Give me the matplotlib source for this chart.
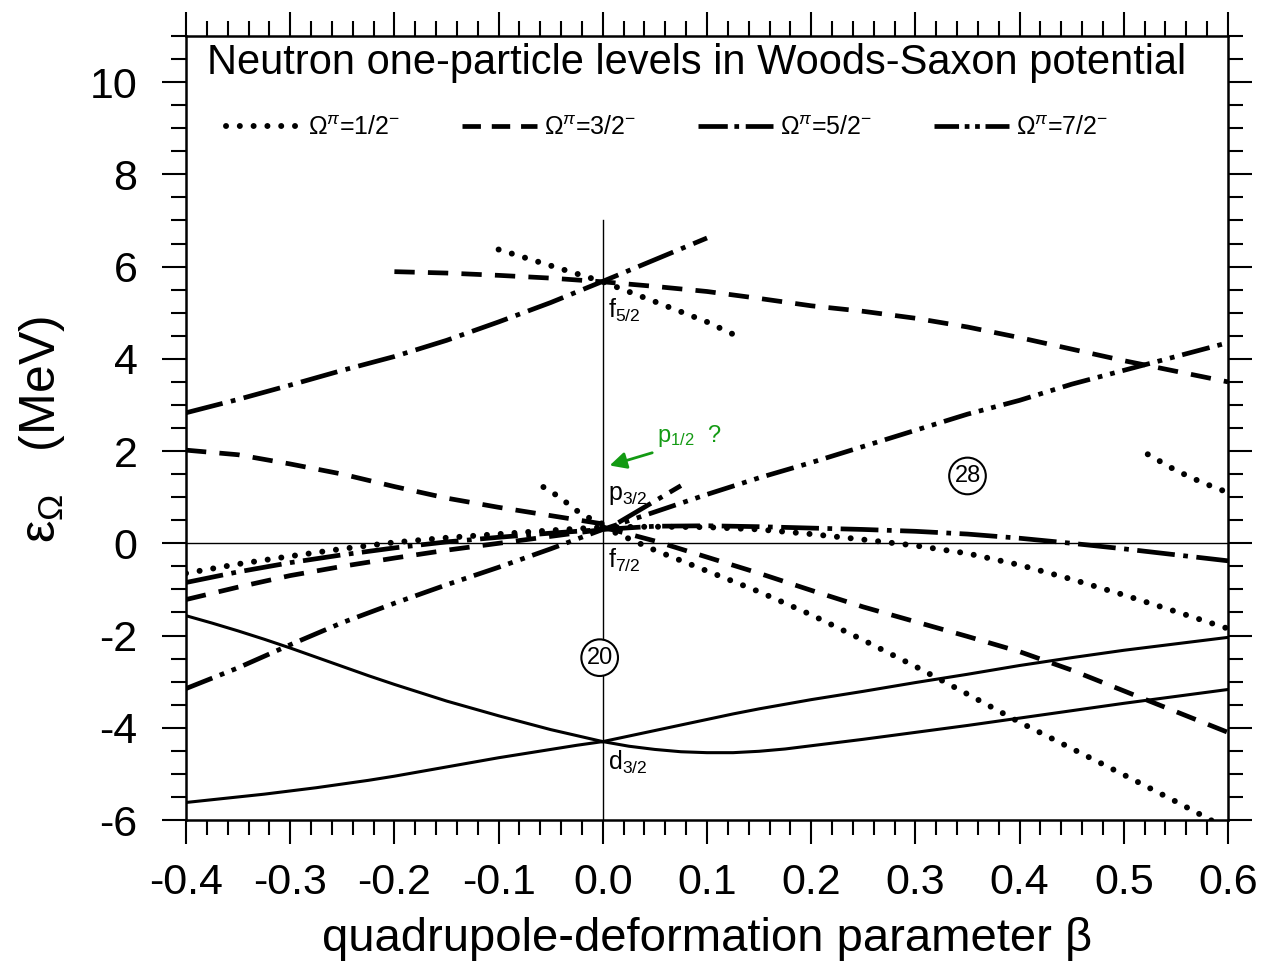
import matplotlib
matplotlib.use("Agg")
import matplotlib.pyplot as plt
from matplotlib.lines import Line2D
from matplotlib.ticker import MultipleLocator

plt.rcParams['font.family'] = ['Liberation Sans', 'DejaVu Sans']
plt.rcParams['mathtext.fontset'] = 'custom'
plt.rcParams['mathtext.rm'] = 'Liberation Sans'
plt.rcParams['mathtext.it'] = 'Liberation Sans:italic'
plt.rcParams['axes.unicode_minus'] = False

# deformation grids
beta_left = [-0.40, -0.35, -0.30, -0.25, -0.20, -0.15, -0.10, -0.05, 0.00]
beta_right = [0.00, 0.05, 0.10, 0.15, 0.20, 0.25, 0.30, 0.35, 0.40, 0.45, 0.50, 0.55, 0.60]
beta_full = beta_left[:-1] + beta_right
beta_left_fine = [-0.400, -0.375, -0.350, -0.325, -0.300, -0.275, -0.250, -0.225, -0.200,
                  -0.175, -0.150, -0.125, -0.100, -0.075, -0.050, -0.025, 0.000]
beta_right_fine = [0.000, 0.025, 0.050, 0.075, 0.100, 0.125, 0.150, 0.175, 0.200, 0.225,
                   0.250, 0.300, 0.350, 0.400, 0.450, 0.500, 0.550, 0.600]

# d3/2 (solid)
d32_a_left = [-1.57, -1.73, -1.90, -2.08, -2.27, -2.47, -2.67, -2.87, -3.06,
              -3.24, -3.42, -3.58, -3.74, -3.89, -4.04, -4.17, -4.30]
d32_b_left = [-5.62, -5.56, -5.50, -5.44, -5.37, -5.30, -5.22, -5.14, -5.05,
              -4.95, -4.85, -4.75, -4.65, -4.56, -4.47, -4.38, -4.30]
d32_a_right = [-4.30, -4.18, -4.06, -3.94, -3.82, -3.70, -3.59, -3.49, -3.39, -3.30,
               -3.21, -3.02, -2.84, -2.65, -2.48, -2.32, -2.18, -2.04]
d32_b_right = [-4.30, -4.40, -4.47, -4.52, -4.54, -4.54, -4.51, -4.46, -4.39, -4.32,
               -4.25, -4.10, -3.95, -3.79, -3.63, -3.47, -3.32, -3.17]

# Omega = 1/2 (dotted)
o12_top_x = [-0.10, -0.05, 0.00, 0.05, 0.10, 0.13]
o12_top_y = [6.37, 6.02, 5.67, 5.24, 4.80, 4.48]
o12_p_x = [-0.057, -0.040, -0.028, -0.015, 0.000]
o12_p_y = [1.22, 0.98, 0.75, 0.57, 0.42]
o12_left = [-0.65, -0.45, -0.28, -0.12, 0.02, 0.12, 0.20, 0.28, 0.35]
o12_flat_right = [0.35, 0.36, 0.35, 0.30, 0.20, 0.08, -0.05, -0.22, -0.47, -0.78, -1.12, -1.48, -1.85]
o12_steep_right = [0.35, -0.15, -0.60, -1.05, -1.55, -2.10, -2.67, -3.27, -3.88, -4.45, -5.02, -5.60, -6.20]
o12_hi_x = [0.523, 0.550, 0.575, 0.600]
o12_hi_y = [1.93, 1.58, 1.32, 1.10]

# Omega = 3/2 (dashed)
o32_top_x = [-0.20, -0.15, -0.10, -0.05, 0.00, 0.05, 0.10, 0.15, 0.20,
             0.25, 0.30, 0.35, 0.40, 0.45, 0.50, 0.55, 0.60]
o32_top_y = [5.89, 5.86, 5.81, 5.75, 5.67, 5.57, 5.46, 5.31, 5.15,
             5.03, 4.88, 4.69, 4.46, 4.21, 3.96, 3.73, 3.50]
o32_p_left = [2.02, 1.92, 1.72, 1.50, 1.23, 0.98, 0.78, 0.60, 0.42]
o32_f_left = [-1.22, -0.95, -0.70, -0.50, -0.32, -0.15, 0.00, 0.15, 0.30]
o32_right = [0.35, 0.05, -0.30, -0.65, -1.02, -1.38, -1.70, -2.02, -2.35, -2.75, -3.20, -3.65, -4.10]

# Omega = 5/2 (dash-dot)
o52_top_x = [-0.40, -0.35, -0.30, -0.25, -0.20, -0.15, -0.10, -0.05, 0.00, 0.05, 0.10]
o52_top_y = [2.83, 3.12, 3.43, 3.75, 4.05, 4.40, 4.80, 5.22, 5.68, 6.15, 6.62]
o52_left = [-0.85, -0.62, -0.42, -0.25, -0.10, 0.03, 0.13, 0.22, 0.30]
o52_right = [0.30, 0.37, 0.38, 0.36, 0.33, 0.30, 0.26, 0.20, 0.11, 0.00, -0.12, -0.25, -0.38]
o52_short_x = [0.015, 0.045, 0.075]
o52_short_y = [0.45, 0.85, 1.25]

# Omega = 7/2 (dash-dot-dot)
o72_y = [-3.15, -2.70, -2.20, -1.72, -1.30, -0.90, -0.52, -0.12, 0.30, 0.68, 1.06,
         1.42, 1.75, 2.10, 2.45, 2.80, 3.10, 3.45, 3.75, 4.05, 4.35]

styles = {
    'solid': dict(ls='-', lw=2.2),
    'dot': dict(ls=(0, (0.01, 2.3)), lw=4.3, dash_capstyle='round'),
    'dash': dict(ls=(0, (4.3, 2.8)), lw=3.4, dash_capstyle='butt'),
    'dashdot': dict(ls=(0, (8, 1.8, 1, 1.8)), lw=3.4, dash_capstyle='butt'),
    'dashdotdot': dict(ls=(0, (6, 1.7, 1, 1.7, 1, 1.7)), lw=3.4, dash_capstyle='butt'),
}

# symmetric patterns for the short legend samples
legend_styles = {
    'dot': dict(ls=(0, (0.01, 2.3)), lw=4.3, dash_capstyle='round'),
    'dash': dict(ls=(0, (3.9, 2.3)), lw=3.4, dash_capstyle='butt'),
    'dashdot': dict(ls=(0, (6.2, 1.4, 1, 1.4, 6.2, 30)), lw=3.4, dash_capstyle='butt'),
    'dashdotdot': dict(ls=(0, (5.2, 1.2, 1, 1.2, 1, 1.2, 5.2, 30)), lw=3.4, dash_capstyle='butt'),
}

curves = [
    (beta_left_fine, d32_a_left, 'solid'),
    (beta_left_fine, d32_b_left, 'solid'),
    (beta_right_fine, d32_a_right, 'solid'),
    (beta_right_fine, d32_b_right, 'solid'),
    (o12_top_x, o12_top_y, 'dot'),
    (o12_p_x, o12_p_y, 'dot'),
    (beta_left, o12_left, 'dot'),
    (beta_right, o12_flat_right, 'dot'),
    (beta_right, o12_steep_right, 'dot'),
    (o12_hi_x, o12_hi_y, 'dot'),
    (o32_top_x, o32_top_y, 'dash'),
    (beta_left, o32_p_left, 'dash'),
    (beta_left, o32_f_left, 'dash'),
    (beta_right, o32_right, 'dash'),
    (o52_top_x, o52_top_y, 'dashdot'),
    (beta_left, o52_left, 'dashdot'),
    (beta_right, o52_right, 'dashdot'),
    (o52_short_x, o52_short_y, 'dashdot'),
    (beta_full, o72_y, 'dashdotdot'),
]

legend_labels = [('dot', 'Ω$^{π}$=1/2$^{-}$'), ('dash', 'Ω$^{π}$=3/2$^{-}$'),
                 ('dashdot', 'Ω$^{π}$=5/2$^{-}$'), ('dashdotdot', 'Ω$^{π}$=7/2$^{-}$')]

fig = plt.figure(figsize=(12.68, 9.75), dpi=100)
ax = fig.add_axes([186 / 1268, 1 - 820 / 975, 1042 / 1268, 784 / 975])

ax.axhline(0, color='black', lw=1.0, zorder=1)
ax.plot([0, 0], [-6, 7], color='black', lw=1.0, zorder=1)

for x, y, key in curves:
    ax.plot(x, y, color='black', clip_on=True, **styles[key])

handles = [Line2D([], [], color='black', label=lab, **legend_styles[key])
           for key, lab in legend_labels]
ax.legend(handles=handles, loc='center left', bbox_to_anchor=(0.038, 0.883),
          ncol=4, frameon=False, fontsize=18, handlelength=3.0,
          handletextpad=0.3, columnspacing=2.45, borderpad=0, borderaxespad=0)

ax.text(0.49, 0.9656, 'Neutron one-particle levels in Woods-Saxon potential',
        transform=ax.transAxes, ha='center', va='center', fontsize=30)

lab_kw = dict(fontsize=18, ha='left', va='top')
ax.text(0.005, 5.35, 'f$_{5/2}$', **lab_kw)
ax.text(0.005, 1.30, 'p$_{3/2}$', **lab_kw)
ax.text(0.005, -0.08, 'f$_{7/2}$', **lab_kw)
ax.text(0.005, -4.45, 'd$_{3/2}$', **lab_kw)

circ = dict(boxstyle='circle,pad=0.22', fc='white', ec='black', lw=1.5)
ax.text(-0.003, -2.48, '20', fontsize=17, ha='center', va='center', bbox=circ)
ax.text(0.350, 1.46, '28', fontsize=17, ha='center', va='center', bbox=circ)

green = '#139a13'
ax.annotate('', xy=(0.004, 1.67), xytext=(0.05, 1.98),
            arrowprops=dict(arrowstyle='-|>', color=green, lw=2, mutation_scale=25))
ax.text(0.052, 2.05, 'p$_{1/2}$  ?', color=green, fontsize=17, ha='left', va='bottom')

ax.set_xlim(-0.4, 0.6)
ax.set_ylim(-6, 11)
ax.xaxis.set_major_locator(MultipleLocator(0.1))
ax.xaxis.set_minor_locator(MultipleLocator(0.02))
ax.yaxis.set_major_locator(MultipleLocator(2))
ax.yaxis.set_minor_locator(MultipleLocator(0.5))
ax.set_yticks([-6, -4, -2, 0, 2, 4, 6, 8, 10])
ax.set_xticks([-0.4, -0.3, -0.2, -0.1, 0.0, 0.1, 0.2, 0.3, 0.4, 0.5, 0.6])
ax.set_xticklabels(['-0.4', '-0.3', '-0.2', '-0.1', '0.0', '0.1', '0.2', '0.3', '0.4', '0.5', '0.6'])
ax.set_yticklabels(['-6', '-4', '-2', '0', '2', '4', '6', '8', '10'])

ax.tick_params(which='both', direction='out', top=True, right=True, width=1.5)
ax.tick_params(which='major', length=17, labelsize=31, pad=14)
ax.tick_params(which='minor', length=11)
ax.tick_params(axis='y', which='major', pad=18)
for s in ax.spines.values():
    s.set_linewidth(1.8)

ax.set_xlabel('quadrupole-deformation parameter β', fontsize=34, labelpad=10)
fig.text(42 / 1268, 1 - 430 / 975, 'ε$_{Ω}$   (MeV)', rotation=90, ha='center',
         va='center', fontsize=36)

fig.savefig('out.png', dpi=100)
